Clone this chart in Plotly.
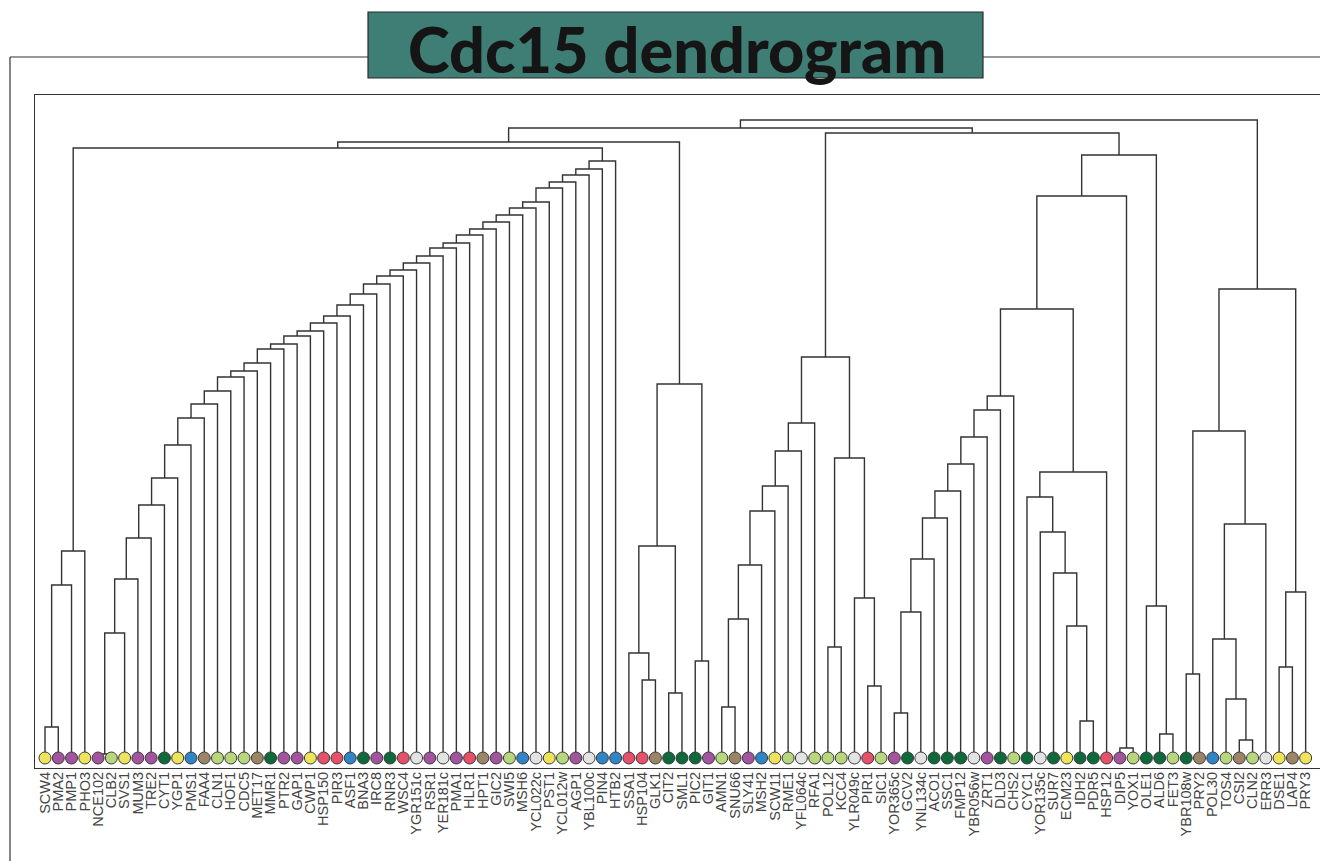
import plotly.graph_objects as go

# ---------------- data ----------------
leaves = ["SCW4", "PMA2", "PMP1", "PHO3", "NCE102", "CLB2", "SVS1", "MUM3", "TRE2", "CYT1",
          "YGP1", "PMS1", "FAA4", "CLN1", "HOF1", "CDC5", "MET17", "MMR1", "PTR2", "GAP1",
          "CWP1", "HSP150", "PIR3", "ASF1", "BNA3", "IRC8", "RNR3", "WSC4", "YGR151c", "RSR1",
          "YER181c", "PMA1", "HLR1", "HPT1", "GIC2", "SWI5", "MSH6", "YCL022c", "PST1", "YCL012w",
          "AGP1", "YBL100c", "PIN4", "HTB2", "SSA1", "HSP104", "GLK1", "CIT2", "SML1", "PIC2",
          "GIT1", "AMN1", "SNU66", "SLY41", "MSH2", "SCW11", "RME1", "YFL064c", "RFA1", "POL12",
          "KCC4", "YLR049c", "PIR1", "SIC1", "YOR365c", "GCV2", "YNL134c", "ACO1", "SSC1", "FMP12",
          "YBR056w", "ZRT1", "DLD3", "CHS2", "CYC1", "YOR135c", "SUR7", "ECM23", "IDH2", "PDR5",
          "HSP12", "DIP5", "YOX1", "OLE1", "ALD6", "FET3", "YBR108w", "PRY2", "POL30", "TOS4",
          "CSI2", "CLN2", "ERR3", "DSE1", "LAP4", "PRY3"]

leaf_class = ["Y", "P", "P", "Y", "P", "G", "Y", "P", "P", "D",
              "Y", "B", "N", "G", "G", "G", "N", "D", "P", "P",
              "Y", "R", "R", "B", "D", "P", "D", "R", "W", "P",
              "W", "P", "R", "N", "P", "G", "B", "W", "Y", "G",
              "P", "W", "B", "B", "R", "R", "N", "D", "D", "D",
              "P", "G", "N", "P", "B", "Y", "G", "W", "G", "G",
              "G", "W", "R", "G", "P", "D", "W", "D", "D", "D",
              "W", "P", "D", "G", "D", "W", "D", "Y", "D", "D",
              "R", "P", "G", "D", "D", "G", "D", "N", "B", "G",
              "N", "G", "W", "Y", "N", "Y"]

class_colors = {"Y": "#EEE45C", "P": "#A2549E", "G": "#B8D67B", "D": "#0E6A3B",
                "B": "#2E86C9", "N": "#9B8566", "R": "#E65069", "W": "#E3E3E3"}

# long staircase of the first cluster (each leaf joins the growing cluster)
stair_leaves = ["SVS1", "MUM3", "TRE2", "CYT1", "YGP1", "PMS1", "FAA4", "CLN1", "HOF1", "CDC5",
                "MET17", "MMR1", "PTR2", "GAP1", "CWP1", "HSP150", "PIR3", "ASF1", "BNA3", "IRC8",
                "RNR3", "WSC4", "YGR151c", "RSR1", "YER181c", "PMA1", "HLR1", "HPT1", "GIC2", "SWI5",
                "MSH6", "YCL022c", "PST1", "YCL012w", "AGP1", "YBL100c", "PIN4", "HTB2"]
stair_heights = [125, 179, 220, 253, 280, 313, 340, 354, 367, 381,
                 387, 395, 409, 414, 422, 427, 435, 442, 453, 464,
                 474, 482, 488, 495, 502, 510, 515, 523, 529, 536,
                 543, 550, 556, 570, 576, 583, 589, 597]

# remaining merges: (node, left child, right child, linkage height)
merges_a = [("A1", "SCW4", "PMA2", 31), ("A2", "A1", "PMP1", 173), ("A3", "A2", "PHO3", 207),
            ("S0", "NCE102", "CLB2", 4)]
merges_b = [
    ("AS", "A3", "S38", 610),
    ("C1", "HSP104", "GLK1", 78), ("C2", "SSA1", "C1", 105), ("C3", "CIT2", "SML1", 65),
    ("C4", "C2", "C3", 212), ("C5", "PIC2", "GIT1", 97), ("C6", "C4", "C5", 374),
    ("L", "AS", "C6", 616),
    ("M1", "AMN1", "SNU66", 51), ("M2", "M1", "SLY41", 139), ("M3", "M2", "MSH2", 193),
    ("M4", "M3", "SCW11", 247), ("M5", "M4", "RME1", 272), ("M6", "M5", "YFL064c", 307),
    ("M7", "M6", "RFA1", 335),
    ("K1", "POL12", "KCC4", 111), ("K2", "PIR1", "SIC1", 72), ("K3", "YLR049c", "K2", 160),
    ("K4", "K1", "K3", 300), ("AM", "M7", "K4", 401),
    ("X1", "YOR365c", "GCV2", 45), ("X2", "X1", "YNL134c", 146), ("X3", "X2", "ACO1", 199),
    ("X4", "X3", "SSC1", 240), ("X5", "X4", "FMP12", 267), ("X6", "X5", "YBR056w", 294),
    ("X7", "X6", "ZRT1", 321), ("X8", "X7", "DLD3", 348), ("X9", "X8", "CHS2", 362),
    ("Y1", "IDH2", "PDR5", 37), ("Y2", "ECM23", "Y1", 132), ("Y3", "SUR7", "Y2", 185),
    ("Y4", "YOR135c", "Y3", 226), ("Y5", "CYC1", "Y4", 261), ("Y6", "Y5", "HSP12", 286),
    ("XY", "X9", "Y6", 449), ("D1", "DIP5", "YOX1", 10), ("XD", "XY", "D1", 562),
    ("O1", "ALD6", "FET3", 24), ("O2", "OLE1", "O1", 152), ("N1", "XD", "O2", 603),
    ("N2", "AM", "N1", 625), ("N3", "L", "N2", 630),
    ("R1", "YBR108w", "PRY2", 84), ("R2", "CSI2", "CLN2", 18), ("R3", "TOS4", "R2", 59),
    ("R4", "POL30", "R3", 119), ("R5", "R4", "ERR3", 234), ("R6", "R1", "R5", 327),
    ("R7", "DSE1", "LAP4", 91), ("R8", "R7", "PRY3", 166), ("R9", "R6", "R8", 469),
    ("ROOT", "N3", "R9", 638),
]

# ---------------- build the tree ----------------
merges = list(merges_a)
prev = "S0"
for k, (lf, h) in enumerate(zip(stair_leaves, stair_heights), start=1):
    merges.append((f"S{k}", prev, lf, h))
    prev = f"S{k}"
merges += merges_b

pos = {name: float(i) for i, name in enumerate(leaves)}
hgt = {name: 0.0 for name in leaves}
xs, ys = [], []
for node, left, right, h in merges:
    xl, xr = pos[left], pos[right]
    xs += [xl, xl, xr, xr, None]
    ys += [hgt[left], h, h, hgt[right], None]
    pos[node] = (xl + xr) / 2
    hgt[node] = h

LINE = "#333333"
fig = go.Figure()
fig.add_trace(go.Scatter(x=xs, y=ys, mode="lines", line=dict(color=LINE, width=1.4),
                         hoverinfo="skip", showlegend=False))
fig.add_trace(go.Scatter(x=list(range(len(leaves))), y=[0] * len(leaves), mode="markers",
                         marker=dict(size=12, color=[class_colors[c] for c in leaf_class],
                                     line=dict(color="#3a3a3a", width=1)),
                         text=leaves, hoverinfo="text", showlegend=False))

# page body has an 8px margin: figure is drawn 8px right/down of the window origin
OFF = 8
W, H = 1328 - OFF, 861 - OFF
L_, T_ = 35 - OFF, 95 - OFF
R_, B_ = W - (1320 - OFF), H - (768 - OFF)
pw, ph = W - L_ - R_, H - T_ - B_


def px(x):  # window pixel -> paper
    return (x - OFF - L_) / pw


def py(y):
    return (H - B_ - (y - OFF)) / ph


xmin = -10 / 13.27
fig.update_layout(
    width=W, height=H, margin=dict(l=L_, r=R_, t=T_, b=B_, autoexpand=False),
    paper_bgcolor="white", plot_bgcolor="white",
    xaxis=dict(range=[xmin, xmin + pw / 13.27], tickvals=list(range(len(leaves))), ticktext=leaves,
               tickangle=-90, ticks="", ticklen=0, ticklabelstandoff=-3, showgrid=False, zeroline=False,
               showline=True, mirror=True, linecolor=LINE, linewidth=1.2,
               tickfont=dict(family="Liberation Sans, Arial, sans-serif", size=14.5, color="#444444"),
               automargin=False),
    yaxis=dict(range=[-10, -10 + ph], showticklabels=False, ticks="", showgrid=False,
               zeroline=False, showline=True, mirror=True, linecolor=LINE, linewidth=1.2,
               automargin=False),
    shapes=[
        dict(type="line", xref="paper", yref="paper", x0=px(10), y0=py(57), x1=px(368), y1=py(57),
             line=dict(color=LINE, width=1.2)),
        dict(type="line", xref="paper", yref="paper", x0=px(983), y0=py(57), x1=px(1332), y1=py(57),
             line=dict(color=LINE, width=1.2)),
        dict(type="line", xref="paper", yref="paper", x0=px(10), y0=py(57), x1=px(10), y1=py(870),
             line=dict(color=LINE, width=1.2)),
        dict(type="rect", xref="paper", yref="paper", x0=px(368), y0=py(78), x1=px(983), y1=py(12),
             fillcolor="#3E7E75", line=dict(color="#2b2b2b", width=1.2)),
    ],
    annotations=[
        dict(text="Cdc15 dendrogram", xref="paper", yref="paper", x=px(677), y=py(48),
             xanchor="center", yanchor="middle", showarrow=False,
             font=dict(family="Lato, sans-serif", size=63, color="#151515", weight=900)),
    ],
)

fig.write_html("out.html")
